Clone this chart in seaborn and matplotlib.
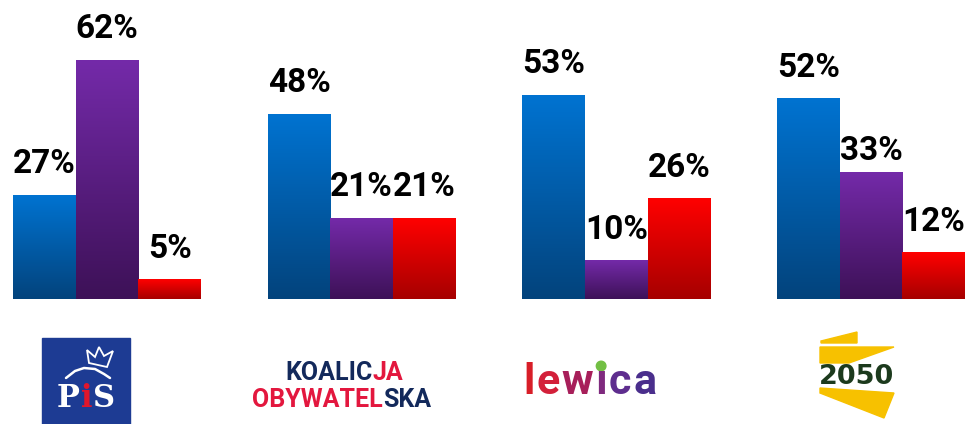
import numpy as np
import pandas as pd
import matplotlib
matplotlib.use('Agg')
import matplotlib.pyplot as plt
import seaborn as sns
from matplotlib.colors import LinearSegmentedColormap
from matplotlib.patches import Rectangle, Polygon

# Dane (procenty)
partie = ['PiS', 'KO', 'Lewica', 'Polska 2050']
serie = ['Seria 1', 'Seria 2', 'Seria 3']
wartosci_1 = [27, 48, 53, 52]
wartosci_2 = [62, 21, 10, 33]
wartosci_3 = [5, 21, 26, 12]

# gradient: kolor u góry -> kolor u dołu słupka
GRADIENTY = {
    'Seria 1': ('#0073d1', '#03437c'),
    'Seria 2': ('#742aa9', '#3d1157'),
    'Seria 3': ('#ff0000', '#a60000'),
}

df = pd.DataFrame({
    'partia': partie * 3,
    'seria': [s for s in serie for _ in partie],
    'procent': wartosci_1 + wartosci_2 + wartosci_3,
})

sns.set_style('white')
plt.rcParams['font.family'] = ['Roboto', 'DejaVu Sans']

fig = plt.figure(figsize=(9.65, 4.24), dpi=100)
ax = fig.add_axes([0, 125 / 424, 1, 299 / 424])

sns.barplot(data=df, x='partia', y='procent', hue='seria',
            palette=[GRADIENTY[s][0] for s in serie], width=0.738,
            legend=False, ax=ax, saturation=1)

xlim = (-0.42, 3.369)
ylim = (0, 77.7)

# podmiana kolorów na gradient + etykiety
nudge = {('Polska 2050', 'Seria 2'): -10}
for seria, kontener in zip(serie, ax.containers):
    cmap = LinearSegmentedColormap.from_list(seria, [GRADIENTY[seria][1], GRADIENTY[seria][0]])
    for partia, bar in zip(partie, kontener):
        x0, w, h = bar.get_x(), bar.get_width(), bar.get_height()
        grad = np.linspace(0, 1, 256).reshape(-1, 1)
        ax.imshow(grad, extent=[x0, x0 + w, 0, h], origin='lower', cmap=cmap,
                  aspect='auto', zorder=2)
        bar.set_facecolor('none')
        bar.set_edgecolor('none')
        dy = (22 + nudge.get((partia, seria), 0)) * 0.72
        ax.annotate(f'{h:.0f}%', (x0 + w / 2, h), xytext=(0, dy),
                    textcoords='offset points', ha='center', va='baseline',
                    fontsize=24, fontweight='bold', color='black', zorder=3)

ax.set_xlim(*xlim)
ax.set_ylim(*ylim)
ax.axis('off')

# --- loga partii (oś w pikselach) ---
lax = fig.add_axes([0, 0, 1, 1], zorder=-1)
lax.set_xlim(0, 965)
lax.set_ylim(424, 0)
lax.axis('off')
renderer = fig.canvas.get_renderer()


def tekst_kolorowy(x, y, czesci, odstep=0, **kw):
    """Rysuje tekst z kolejnymi fragmentami w różnych kolorach."""
    teksty = []
    for txt, kolor in czesci:
        t = lax.text(x, y, txt, color=kolor, ha='left', va='baseline', **kw)
        bb = t.get_window_extent(renderer)
        x = lax.transData.inverted().transform((bb.x1, bb.y0))[0] + odstep
        teksty.append(t)
    return teksty


# PiS
lax.add_patch(Rectangle((42, 338), 88, 86, color='#1d3b93'))
korona = [(89, 363), (87, 350), (95, 357), (99, 347), (104, 356), (113, 351), (107, 367)]
lax.add_patch(Polygon(korona, closed=True, fill=False, ec='white', lw=1.3))
lax.plot([66, 75, 84, 95, 104, 110], [378, 371, 368, 369, 374, 378], color='white', lw=1.8)
tekst_kolorowy(57, 407, [('P', 'white'), ('i', '#e0162b'), ('S', 'white')], odstep=1,
               fontsize=22, fontweight='bold', family='DejaVu Serif')

# Koalicja Obywatelska
GRANAT, CZERWONY = '#13295b', '#e3173e'
tekst_kolorowy(285, 380, [('KOALIC', GRANAT), ('JA', CZERWONY)],
               fontsize=18, fontweight='bold', family='Roboto')
tekst_kolorowy(252, 407, [('OBYWATEL', CZERWONY), ('SKA', GRANAT)],
               fontsize=18, fontweight='bold', family='Roboto')

# Lewica
litery = [('l', '#d81e28'), ('e', '#d3203a'), ('w', '#a71f5a'),
          ('\u0131', '#7f2a7e'), ('c', '#5e2d8e'), ('a', '#4a2e8c')]
tl = tekst_kolorowy(523, 394, litery, odstep=2, fontsize=31, fontweight='bold',
                    family='Roboto')
bb = tl[3].get_window_extent(renderer)
cx = (bb.x0 + bb.x1) / 2
lax.add_patch(plt.Circle((cx, 366), 4.8, color='#72bf44'))

# Polska 2050
ZOLTY = '#f7c100'
lax.add_patch(Polygon([(821, 341), (857, 332), (857, 343), (821, 343)], color=ZOLTY))
lax.add_patch(Polygon([(820, 347), (894, 347), (849, 363), (820, 363)], color=ZOLTY))
lax.add_patch(Polygon([(820, 388), (894, 393), (884, 418), (820, 393)], color=ZOLTY))
lax.text(856.5, 384.5, '2050', ha='center', va='baseline', fontsize=19.5,
         fontweight='bold', family='DejaVu Sans', color='#1c3a1d')

fig.savefig('out.png', dpi=100)
